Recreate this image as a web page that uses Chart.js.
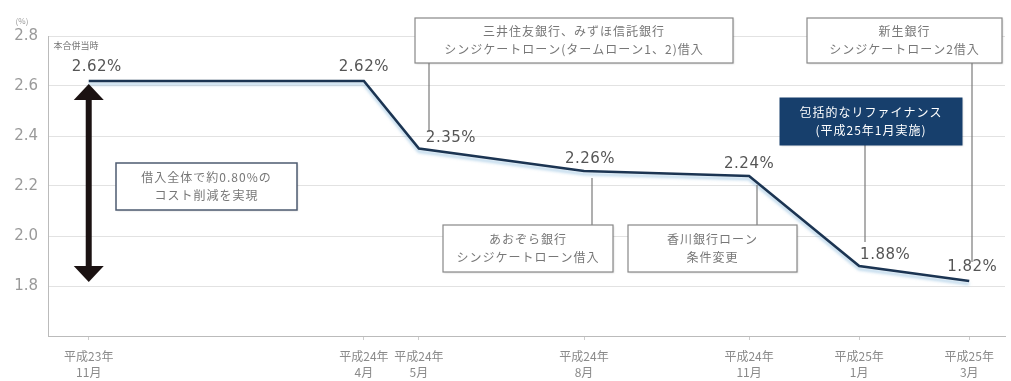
<!DOCTYPE html>
<html lang="ja">
<head>
<meta charset="UTF-8">
<title>借入コスト推移</title>
<script src="https://cdn.jsdelivr.net/npm/chart.js"></script>
<style>
  body { margin: 0; padding: 0; background: #fff; }
  #wrap { width: 1011px; height: 381px; position: relative; }
</style>
</head>
<body>
<div id="wrap"><canvas id="costChart" width="1011" height="381"></canvas></div>
<script>
// months counted from 平成23年11月
const months = [0, 5, 6, 9, 12, 14, 16];
const rates = [2.62, 2.62, 2.35, 2.26, 2.24, 1.88, 1.82];
const rateLabels = ['2.62%', '2.62%', '2.35%', '2.26%', '2.24%', '1.88%', '1.82%'];
const monthLabels = [
  ['平成23年', '11月'], ['平成24年', '4月'], ['平成24年', '5月'], ['平成24年', '8月'],
  ['平成24年', '11月'], ['平成25年', '1月'], ['平成25年', '3月']
];
const yTicks = [1.8, 2.0, 2.2, 2.4, 2.6, 2.8];

const JP = '"Noto Sans CJK JP", sans-serif';

// label offsets from the point (px)
const labelOffsets = [[8, -14], [0, -14], [32, -10], [6, -12], [0, -12], [26, -11], [3, -14]];

// callout boxes
const boxes = [
  { x: 116, y: 163, w: 181, h: 47, lines: ['借入全体で約0.80%の', 'コスト削減を実現'], border: '#4d5b70', lw: 1.5 },
  { x: 415, y: 18, w: 318, h: 45, lines: ['三井住友銀行、みずほ信託銀行', 'シンジケートローン(タームローン1、2)借入'], border: '#888', lw: 1.2 },
  { x: 807, y: 18, w: 195, h: 45, lines: ['新生銀行', 'シンジケートローン2借入'], border: '#888', lw: 1.2 },
  { x: 780, y: 98, w: 182, h: 47, lines: ['包括的なリファイナンス', '(平成25年1月実施)'], fill: '#173f6c', color: '#fff', border: '#173f6c', lw: 1 },
  { x: 443, y: 225, w: 170, h: 47, lines: ['あおぞら銀行', 'シンジケートローン借入'], border: '#888', lw: 1.2 },
  { x: 628, y: 225, w: 169, h: 47, lines: ['香川銀行ローン', '条件変更'], border: '#888', lw: 1.2 }
];

// leader lines: [x, y1, y2]
const leaders = [[429, 63, 132], [972, 63, 262], [865, 145, 242], [592, 178, 225], [757, 185, 225]];

const overlay = {
  id: 'overlay',
  beforeDatasetsDraw(chart) {
    const ctx = chart.ctx;
    ctx.save();
    ctx.shadowColor = 'rgba(120,175,215,0.55)';
    ctx.shadowOffsetY = 3;
    ctx.shadowBlur = 3;
  },
  afterDatasetsDraw(chart) {
    const ctx = chart.ctx;
    ctx.restore();
    const xs = chart.scales.x, ys = chart.scales.y;

    // leader lines
    ctx.save();
    ctx.strokeStyle = '#7a7a7a';
    ctx.lineWidth = 1.2;
    leaders.forEach(l => {
      ctx.beginPath();
      ctx.moveTo(l[0], l[1]);
      ctx.lineTo(l[0], l[2]);
      ctx.stroke();
    });

    // boxes
    boxes.forEach(b => {
      ctx.shadowColor = 'rgba(0,0,0,0.15)';
      ctx.shadowOffsetX = 1;
      ctx.shadowOffsetY = 1;
      ctx.shadowBlur = 2;
      ctx.fillStyle = b.fill || '#fff';
      ctx.fillRect(b.x, b.y, b.w, b.h);
      ctx.shadowColor = 'transparent';
      ctx.strokeStyle = b.border;
      ctx.lineWidth = b.lw;
      ctx.strokeRect(b.x, b.y, b.w, b.h);
      ctx.fillStyle = b.color || '#777';
      ctx.font = '12px ' + JP;
      ctx.letterSpacing = '1px';
      ctx.textAlign = 'center';
      ctx.textBaseline = 'middle';
      ctx.fillText(b.lines[0], b.x + b.w / 2, b.y + b.h / 2 - 9);
      ctx.fillText(b.lines[1], b.x + b.w / 2, b.y + b.h / 2 + 9);
    });
    ctx.letterSpacing = '0px';

    // double arrow from first to last rate
    const ax = xs.getPixelForValue(months[0]);
    const top = ys.getPixelForValue(rates[0]) + 3;
    const bot = ys.getPixelForValue(rates[rates.length - 1]) + 1;
    ctx.fillStyle = '#1b1212';
    ctx.fillRect(ax - 3, top + 12, 6, bot - top - 24);
    ctx.beginPath();
    ctx.moveTo(ax, top);
    ctx.lineTo(ax + 15, top + 16);
    ctx.lineTo(ax - 15, top + 16);
    ctx.closePath();
    ctx.fill();
    ctx.beginPath();
    ctx.moveTo(ax, bot);
    ctx.lineTo(ax + 15, bot - 16);
    ctx.lineTo(ax - 15, bot - 16);
    ctx.closePath();
    ctx.fill();

    // value labels
    ctx.fillStyle = '#555';
    ctx.font = '15px "DejaVu Sans", sans-serif';
    ctx.letterSpacing = '0.5px';
    ctx.textAlign = 'center';
    ctx.textBaseline = 'middle';
    months.forEach((m, i) => {
      const px = xs.getPixelForValue(m), py = ys.getPixelForValue(rates[i]);
      ctx.fillText(rateLabels[i], px + labelOffsets[i][0], py + labelOffsets[i][1]);
    });
    ctx.letterSpacing = '0px';

    ctx.fillStyle = '#777';
    ctx.font = '9px ' + JP;
    ctx.fillText('本合併当時', 76, 46);
    ctx.font = '8px ' + JP;
    ctx.fillStyle = '#999';
    ctx.fillText('(%)', 22, 21);
    ctx.restore();
  }
};

new Chart(document.getElementById('costChart'), {
  type: 'line',
  data: {
    datasets: [{
      data: months.map((m, i) => ({ x: m, y: rates[i] })),
      borderColor: '#1b3452',
      borderWidth: 2.6,
      pointRadius: 0,
      tension: 0,
      fill: false
    }]
  },
  options: {
    responsive: false,
    animation: false,
    layout: { padding: { top: 36, right: 6, left: 0, bottom: 0 } },
    plugins: { legend: { display: false }, tooltip: { enabled: false } },
    scales: {
      x: {
        type: 'linear',
        min: -0.74,
        max: 16.65,
        afterFit(scale) { scale.height = 45; },
        afterBuildTicks(scale) { scale.ticks = months.map(v => ({ value: v })); },
        ticks: {
          autoSkip: false,
          maxRotation: 0,
          color: '#8a8a8a',
          font: { family: JP, size: 12, lineHeight: 1.35 },
          padding: 8,
          callback(v) { const i = months.indexOf(v); return i >= 0 ? monthLabels[i] : ''; }
        },
        grid: { drawOnChartArea: false, tickLength: 4, color: '#ccc' },
        border: { color: '#bbb' }
      },
      y: {
        min: 1.6,
        max: 2.8,
        afterFit(scale) { scale.width = 48; },
        afterBuildTicks(scale) { scale.ticks = [1.6].concat(yTicks).map(v => ({ value: v })); },
        ticks: {
          color: '#9a9a9a',
          font: { family: '"DejaVu Sans", sans-serif', size: 15 },
          padding: 10,
          callback(v) { return yTicks.some(t => Math.abs(t - v) < 1e-6) ? v.toFixed(1) : ''; }
        },
        grid: { color: '#e2e2e2', drawTicks: false },
        border: { color: '#bbb' }
      }
    }
  },
  plugins: [overlay]
});
</script>
</body>
</html>
